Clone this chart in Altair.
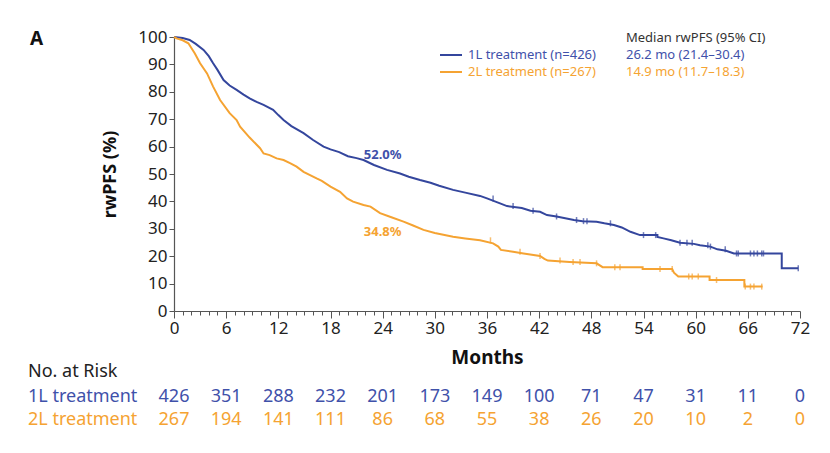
import altair as alt
import pandas as pd

# ---------------- data ----------------
months_1L = [0, 1, 1.8, 2.5, 3.4, 4, 4.5, 5, 5.7, 6.4, 7.2, 8, 8.7, 9.5, 10.3, 11.4, 12, 12.6,
             13.5, 14.9, 16, 17.2, 18, 19, 20, 21, 21.8, 23, 24.5, 26, 27, 28.3, 29.5, 30.5,
             32.1, 33.5, 35.2, 36, 37.5, 38.3, 40, 41, 42.1, 42.9, 44, 46, 47, 48.6, 49.5,
             50.6, 51.5, 52.5, 53.6, 55.6, 55.6, 56.3, 57.2, 58.2, 59.8, 60.5, 61.7, 62.5,
             63.5, 64.4, 69.9, 69.9, 71.8]
pfs_1L = [100, 99.6, 98.9, 97.5, 95.3, 93, 90.4, 88, 84.3, 82.3, 80.7, 79, 77.6, 76.3, 75.2,
          73.4, 71.5, 69.7, 67.5, 64.9, 62.4, 60, 59, 58, 56.5, 55.8, 55.1, 53.3, 51.5, 50.2,
          49, 47.8, 46.8, 45.7, 44.2, 43.2, 42, 41.1, 39.3, 38.3, 37.6, 36.6, 36.2, 35, 34.5,
          33.2, 32.8, 32.6, 32, 31.4, 30.5, 28.9, 27.7, 27.7, 27.0, 26.5, 25.8, 24.9, 24.5,
          24.0, 23.5, 22.5, 22.0, 21.0, 21.0, 15.6, 15.6]

months_2L = [0, 0.3, 1, 1.65, 2.4, 3, 3.8, 4.5, 5.3, 6.4, 7.2, 7.6, 8.7, 9.9, 10.3, 11, 11.8,
             12.6, 13.4, 14.1, 14.9, 16.4, 17, 18, 19.1, 19.9, 20.6, 21.8, 22.6, 23.7, 25,
             26.4, 27.5, 28.7, 30, 32.1, 33.5, 35.2, 36.7, 37.3, 37.6, 39, 40.2, 42.1, 42.6,
             43.0, 45.5, 48.6, 49.3, 53.9, 53.9, 57.3, 57.5, 58.0, 61.6, 61.6, 65.6, 65.6, 67.7]
pfs_2L = [100, 99.5, 98.8, 97.7, 94, 90.4, 86.7, 81.9, 77, 72.2, 69.7, 67.3, 63.3, 59.4, 57.5,
          56.9, 55.7, 55.1, 53.9, 52.7, 50.8, 48.4, 47.5, 45.4, 43.5, 41.1, 39.9, 38.7, 38.1,
          35.7, 34.2, 32.6, 31.2, 29.6, 28.5, 27.1, 26.5, 25.8, 24.7, 23.5, 22.3, 21.6, 21.0,
          20.1, 19.0, 18.4, 17.9, 17.4, 16.0, 16.0, 15.3, 15.3, 14.0, 12.6, 12.6, 11.3, 11.3,
          8.9, 8.9]

censor_1L = [36.7, 39.0, 41.3, 44.0, 46.3, 47.1, 47.5, 50.2, 54.0, 55.4, 58.2, 59.0, 59.6,
             61.4, 61.7, 63.4, 64.7, 64.9, 66.3, 66.7, 67.1, 67.6, 67.8, 71.8]
censor_2L = [36.4, 39.8, 42.1, 44.4, 45.9, 46.7, 48.6, 50.7, 51.3, 55.9, 57.3, 59.2, 59.6,
             60.3, 62.4, 65.7, 66.3, 66.7, 67.6]

series = ["1L treatment", "2L treatment"]
series_n = [426, 267]
medians = ["26.2 mo (21.4\u201330.4)", "14.9 mo (11.7\u201318.3)"]
colors = ["#34469d", "#f5a332"]
text_colors = ["#3f51aa", "#f5a332"]

risk_months = [0, 6, 12, 18, 24, 30, 36, 42, 48, 54, 60, 66, 72]
risk_1L = [426, 351, 288, 232, 201, 173, 149, 100, 71, 47, 31, 11, 0]
risk_2L = [267, 194, 141, 111, 86, 68, 55, 38, 26, 20, 10, 2, 0]

landmark_month = 24
landmark_1L = 52.0
landmark_2L = 34.8

FONT = "Noto Sans"
W, H = 626, 274
RISK_FS = 18

# ---------------- tables ----------------
curve = pd.concat([
    pd.DataFrame({"series": series[0], "month": months_1L, "pfs": pfs_1L, "i": range(len(months_1L))}),
    pd.DataFrame({"series": series[1], "month": months_2L, "pfs": pfs_2L, "i": range(len(months_2L))}),
])


def step_value(ms, ps, t):
    v = ps[0]
    for m, p in zip(ms, ps):
        if m <= t:
            v = p
    return v


cens = pd.concat([
    pd.DataFrame({"series": series[0], "month": censor_1L,
                  "pfs": [step_value(months_1L, pfs_1L, t) for t in censor_1L]}),
    pd.DataFrame({"series": series[1], "month": censor_2L,
                  "pfs": [step_value(months_2L, pfs_2L, t) for t in censor_2L]}),
])

color_scale = alt.Scale(domain=series, range=colors)

x_scale = alt.Scale(domain=[0, 72], nice=False, zero=False)
y_scale = alt.Scale(domain=[0, 100], nice=False)

x_axis = alt.Axis(
    values=list(range(0, 73)),
    labelExpr="datum.value % 6 === 0 ? datum.label : ''",
    tickSize={"expr": "datum.value % 6 === 0 ? 7 : 4"},
    labelFontSize=17, labelFont=FONT, labelColor="#222", labelPadding=2,
    labelOverlap=False, labelFlush=False,
    domainColor="#555", tickColor="#555", domainWidth=1.2, tickWidth=1,
    grid=False,
    title="Months", titleFont=FONT, titleFontSize=19, titleFontWeight="bold",
    titleColor="#111", titleY=46, titleBaseline="middle",
)
y_axis = alt.Axis(
    values=list(range(0, 101, 10)),
    tickSize=5, labelFontSize=17, labelFont=FONT, labelColor="#222", labelPadding=2,
    labelOverlap=False,
    domainColor="#555", tickColor="#555", domainWidth=1.2, tickWidth=1, grid=False,
    title="rwPFS (%)", titleFont=FONT, titleFontSize=18, titleFontWeight="bold",
    titleColor="#111", titleAngle=-90, titleX=-64, titleY=137, titleAlign="center",
    titleBaseline="middle",
)

XN = alt.X("month:Q", scale=x_scale, axis=x_axis)
YN = alt.Y("pfs:Q", scale=y_scale, axis=y_axis)

lines = alt.Chart(curve).mark_line(strokeWidth=2, clip=False).encode(
    x=XN, y=YN,
    color=alt.Color("series:N", scale=color_scale, legend=None),
    detail="series:N",
    order="i:Q",
)

ticks = alt.Chart(cens).mark_tick(orient="vertical", size=6, thickness=1.5).encode(
    x=XN, y=YN,
    color=alt.Color("series:N", scale=color_scale, legend=None),
)

lab1 = alt.Chart(pd.DataFrame({"month": [landmark_month], "pfs": [landmark_1L]})).mark_text(
    font=FONT, fontSize=13, fontWeight="bold", color=text_colors[0], dy=-14
).transform_calculate(t="format(datum.pfs, '.1f') + '%'").encode(x=XN, y=YN, text="t:N")

lab2 = alt.Chart(pd.DataFrame({"month": [landmark_month], "pfs": [landmark_2L]})).mark_text(
    font=FONT, fontSize=13, fontWeight="bold", color=text_colors[1], dy=16
).transform_calculate(t="format(datum.pfs, '.1f') + '%'").encode(x=XN, y=YN, text="t:N")

# ---------------- risk table ----------------
risk1 = alt.Chart(pd.DataFrame({"month": risk_months, "n": risk_1L})).mark_text(
    font=FONT, fontSize=RISK_FS, color=text_colors[0], baseline="middle"
).encode(x=XN, y=alt.value(360), text="n:Q")
risk2 = alt.Chart(pd.DataFrame({"month": risk_months, "n": risk_2L})).mark_text(
    font=FONT, fontSize=RISK_FS, color=text_colors[1], baseline="middle"
).encode(x=XN, y=alt.value(383), text="n:Q")

one = pd.DataFrame({"a": [0]})


def txt(s, x, y, color, size, weight="normal", align="left"):
    return alt.Chart(one).mark_text(
        font=FONT, fontSize=size, fontWeight=weight, color=color, align=align,
        baseline="middle"
    ).encode(x=alt.value(x), y=alt.value(y), text=alt.value(s))


risk_head = txt("No. at Risk", -146, 335, "#222", RISK_FS)
risk_l1 = txt(series[0], -146, 360, text_colors[0], RISK_FS)
risk_l2 = txt(series[1], -146, 383, text_colors[1], RISK_FS)
panel = txt("A", -144, 2, "#111", 19, "bold")

# ---------------- legend ----------------
leg_head = txt("Median rwPFS (95% CI)", 452, 1, "#333", 13)
leg_rule1 = alt.Chart(one).mark_rule(color=colors[0], strokeWidth=2).encode(
    x=alt.value(266), x2=alt.value(288), y=alt.value(18))
leg_rule2 = alt.Chart(one).mark_rule(color=colors[1], strokeWidth=2).encode(
    x=alt.value(266), x2=alt.value(288), y=alt.value(35))
leg_t1 = txt(f"{series[0]} (n={series_n[0]})", 294, 18, text_colors[0], 13)
leg_t2 = txt(f"{series[1]} (n={series_n[1]})", 294, 35, text_colors[1], 13)
leg_m1 = txt(medians[0], 452, 18, text_colors[0], 13)
leg_m2 = txt(medians[1], 452, 35, text_colors[1], 13)

chart = alt.layer(
    lines, ticks, lab1, lab2, risk1, risk2, risk_head, risk_l1, risk_l2, panel,
    leg_head, leg_rule1, leg_rule2, leg_t1, leg_t2, leg_m1, leg_m2,
).properties(
    width=W, height=H,
    autosize=alt.AutoSizeParams(type="none"),
    padding={"left": 166, "top": 29, "right": 22, "bottom": 134},
).configure(background="white", view={"stroke": None})

chart.save("out.html", embed_options={"renderer": "svg", "actions": False})
